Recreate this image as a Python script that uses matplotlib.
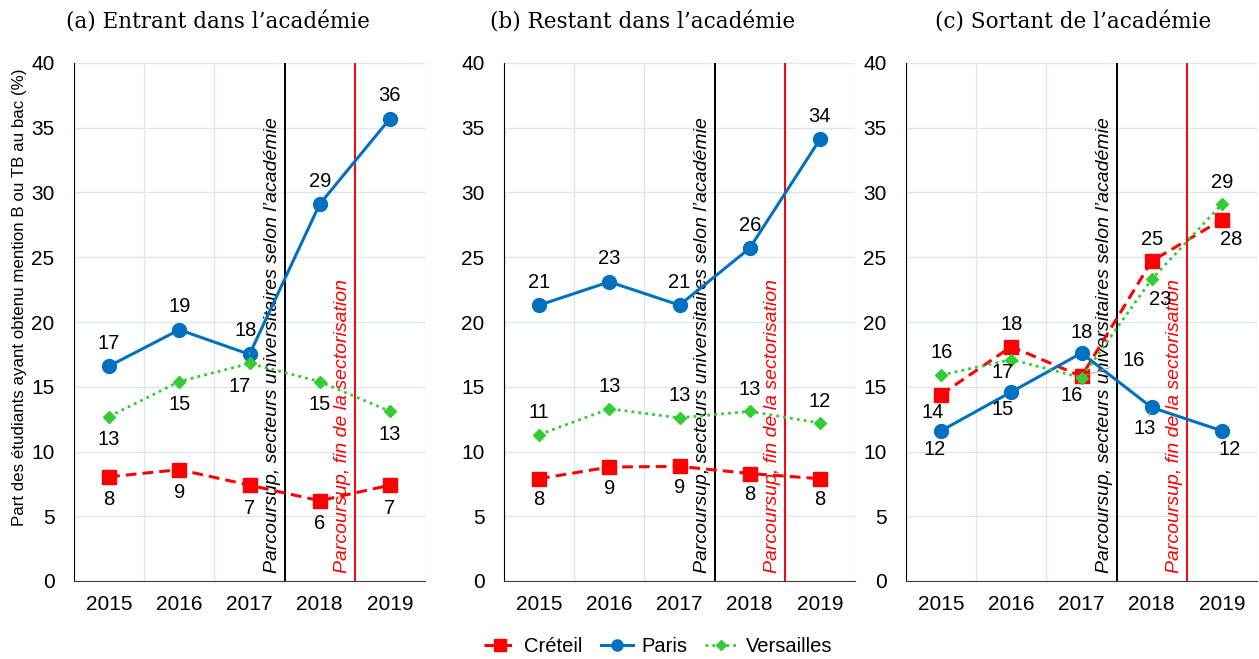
import matplotlib
matplotlib.use("Agg")
import matplotlib.pyplot as plt

plt.rcParams['font.family'] = ['Liberation Sans', 'DejaVu Sans']

years = ["2015", "2016", "2017", "2018", "2019"]
panel_titles = ["(a) Entrant dans l\u2019académie",
                "(b) Restant dans l\u2019académie",
                "(c) Sortant de l\u2019académie"]
series_names = ["Créteil", "Paris", "Versailles"]

# values (%)
creteil = [[8.05, 8.6, 7.4, 6.2, 7.4],
           [7.9, 8.8, 8.85, 8.3, 7.9],
           [14.4, 18.1, 15.8, 24.7, 27.9]]
paris = [[16.6, 19.4, 17.5, 29.1, 35.7],
         [21.3, 23.1, 21.3, 25.7, 34.1],
         [11.6, 14.6, 17.6, 13.4, 11.6]]
versailles = [[12.7, 15.4, 16.8, 15.4, 13.1],
              [11.3, 13.3, 12.6, 13.1, 12.2],
              [15.9, 17.1, 15.7, 23.3, 29.1]]

vline_texts = ["Parcoursup, secteurs universitaires selon l\u2019académie",
               "Parcoursup, fin de la sectorisation"]

# ---- styles ----
styles = {
    "Créteil": dict(color="#FF0000", ls=(0, (3.5, 2)), marker="s", ms=10, lw=2.2),
    "Paris": dict(color="#0070C0", ls="-", marker="o", ms=10, lw=2.2),
    "Versailles": dict(color="#33CC33", ls=(0, (1, 1.5)), marker="D", ms=6.5, lw=2.0),
}

# label offsets in pixels (dx, dy) per panel / series / year
U, D = (0, 23), (0, -23)
offsets = {
    0: {"Créteil": [D] * 5,
        "Paris": [U, U, (-4, 24), U, U],
        "Versailles": [D, D, (-10, -23), D, D]},
    1: {"Créteil": [(0, -21)] * 5, "Paris": [U] * 5, "Versailles": [(0, 22)] * 5},
    2: {"Créteil": [(-8, -18), (0, 22), (52, 16), (0, 22), (9, -20)],
        "Paris": [(-6, -19), (-9, -18), (0, 21), (-7, -21), (8, -19)],
        "Versailles": [(1, 23), (-9, -13), (-10, -18), (8, -20), (0, 22)]},
}
# labels that get a small grey leader line
leaders = {(0, "Paris", 2), (0, "Versailles", 2), (2, "Paris", 3),
           (2, "Créteil", 2), (2, "Versailles", 2)}

fig = plt.figure(figsize=(12.59, 6.59), dpi=100)
lefts = [74, 504, 906]
title_x = [218, 643, 1073]
W, H = 1259, 659
ax_w, ax_bottom, ax_top = 351, 581, 63

x = list(range(len(years)))
for p in range(3):
    ax = fig.add_axes([lefts[p] / W, 1 - ax_bottom / H, ax_w / W, (ax_bottom - ax_top) / H])
    ax.set_xlim(-0.5, 4.5)
    ax.set_ylim(0, 40)
    ax.set_yticks(range(0, 41, 5))
    ax.set_xticks(x)
    ax.set_xticklabels(years)
    ax.set_xticks([i + 0.5 for i in range(-1, 5)], minor=True)
    ax.grid(True, which="minor", axis="x", color="#DCE6F2", lw=1)
    ax.grid(True, which="major", axis="y", color="#DCE6F2", lw=1)
    ax.set_axisbelow(True)
    ax.tick_params(which="both", length=0, labelsize=15)
    ax.tick_params(axis="x", pad=10)
    ax.tick_params(axis="y", pad=14)
    for s in ["top", "right"]:
        ax.spines[s].set_visible(False)
    ax.spines["left"].set_color("black")
    ax.spines["bottom"].set_color("#404040")

    ax.axvline(2.5, color="black", lw=1.4, zorder=2)
    ax.axvline(3.5, color="#FF0000", lw=1.4, zorder=2)
    ax.text(2.5 - 0.05, 0.6, vline_texts[0], rotation=90, style="italic", fontsize=14,
            ha="right", va="bottom", color="black", zorder=3)
    ax.text(3.5 - 0.05, 0.6, vline_texts[1], rotation=90, style="italic", fontsize=14,
            ha="right", va="bottom", color="#FF0000", zorder=3)

    for name, data in zip(series_names, [creteil, paris, versailles]):
        vals = data[p]
        st = styles[name]
        ax.plot(x, vals, color=st["color"], ls=st["ls"], lw=st["lw"], marker=st["marker"],
                ms=st["ms"], label=name, zorder=4)
        for i, v in enumerate(vals):
            arrow = None
            if (p, name, i) in leaders:
                arrow = dict(arrowstyle="-", color="#A0A0A0", lw=0.7, shrinkA=7, shrinkB=3)
            ax.annotate(str(int(v + 0.5)), (i, v), xytext=offsets[p][name][i],
                        textcoords="offset pixels", ha="center", va="center",
                        fontsize=14.5, zorder=5, arrowprops=arrow)

    fig.text(title_x[p] / W, 1 - 22 / H, panel_titles[p], family="DejaVu Serif",
             fontsize=15.5, ha="center", va="center")
    if p == 0:
        handles, labels = ax.get_legend_handles_labels()

fig.text(20 / W, 1 - 297 / H, "Part des étudiants ayant obtenu mention B ou TB au bac (%)",
         rotation=90, fontsize=12.2, ha="center", va="center")

fig.legend(handles, labels, loc="center", bbox_to_anchor=(658 / W, 1 - 647 / H), ncol=3,
           frameon=False, fontsize=14.5, handlelength=1.6, columnspacing=0.9,
           handletextpad=0.4, markerscale=0.8)

fig.savefig("out.png", dpi=100)
